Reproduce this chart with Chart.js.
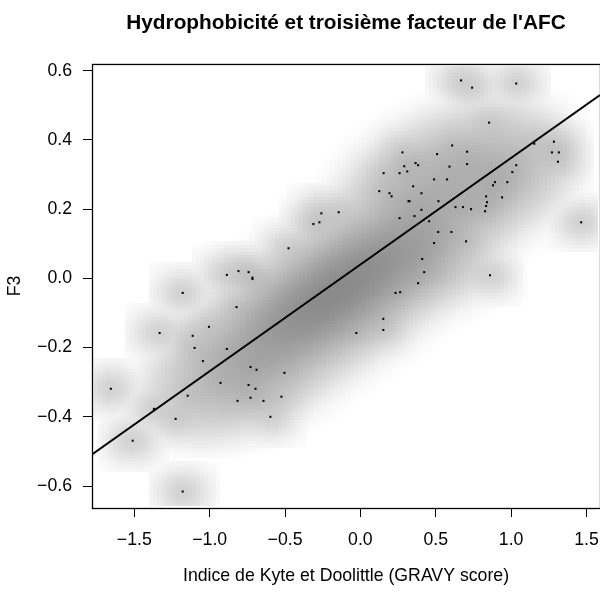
<!DOCTYPE html>
<html>
<head>
<meta charset="utf-8">
<script src="https://cdn.jsdelivr.net/npm/chart.js@4.4.1/dist/chart.umd.min.js"></script>
<style>
  html, body { margin: 0; padding: 0; background: #fff; }
  #wrap { width: 600px; height: 595px; }
</style>
</head>
<body>
<div id="wrap"><canvas id="chart"></canvas></div>
<script>
// plotted (low density) points
const gravy = [0.668, 0.741, 1.034, 0.854, 0.609, 0.279, 0.509, 0.708, 0.291, 0.366,
  0.383, 0.591, 0.708, 0.154, 0.260, 0.311, 0.489, 0.575, 0.350, 0.125,
  0.193, 0.207, 0.405, 0.319, 0.326, 0.518, 0.405, 0.631, 0.681, 0.734,
  -0.259, -0.144, 1.284, 1.154, 1.271, 1.317, 1.311, 1.034, 1.008, 0.975,
  0.893, 0.880, 0.834, 0.840, 0.940, 0.834, 0.827, 1.465, 0.604, 0.701,
  0.860, -0.312, -0.272, 0.260, 0.359, 0.456, 0.516, 0.489, -0.477, 0.410,
  0.423, 0.383, 0.233, 0.264, 0.152, 0.152, -0.027, -0.886, -0.809, -0.742,
  -0.716, -0.716, -1.179, -0.822, -1.005, -1.332, -1.113, -1.100, -0.886, -1.045,
  -0.729, -0.689, -1.656, -0.928, -0.742, -0.696, -1.146, -0.815, -0.729, -0.643,
  -0.597, -1.370, -1.226, -1.511, -1.179, -0.504, -0.524];
const f3 = [0.572, 0.551, 0.563, 0.450, 0.384, 0.364, 0.359, 0.366, 0.324, 0.333,
  0.327, 0.323, 0.330, 0.304, 0.304, 0.309, 0.286, 0.286, 0.266, 0.252,
  0.246, 0.237, 0.246, 0.223, 0.223, 0.223, 0.198, 0.206, 0.206, 0.200,
  0.188, 0.191, 0.395, 0.389, 0.364, 0.364, 0.337, 0.327, 0.307, 0.278,
  0.278, 0.269, 0.237, 0.220, 0.234, 0.209, 0.194, 0.162, 0.134, 0.107,
  0.009, 0.157, 0.162, 0.174, 0.180, 0.165, 0.134, 0.102, 0.087, 0.056,
  0.018, -0.014, -0.042, -0.040, -0.117, -0.149, -0.158, 0.010, 0.021, 0.018,
  0.002, -0.002, -0.042, -0.083, -0.140, -0.158, -0.166, -0.201, -0.204, -0.239,
  -0.256, -0.264, -0.319, -0.302, -0.308, -0.319, -0.339, -0.354, -0.345, -0.354,
  -0.400, -0.377, -0.406, -0.469, -0.616, -0.273, -0.342];

// dense core (points R did not plot), estimated from the grey shading:
// centre, spread along / across the fit line, peak density
const coreX = [-0.25, 0.15, 0.60, 0.90, -0.75, 0.45];
const coreY = [-0.07, 0.06, 0.27, 0.30, -0.25, 0.05];
const coreAlong = [0.38, 0.35, 0.35, 0.20, 0.30, 0.15];
const coreAcross = [0.17, 0.17, 0.22, 0.16, 0.18, 0.15];
const coreWeight = [44, 22, 8, 5, 10, 4];

// regression line end points
const fitX = [-1.781, 1.590];
const fitY = [-0.509, 0.530];

const xTicks = [-1.5, -1.0, -0.5, 0.0, 0.5, 1.0, 1.5];
const yTicks = [-0.6, -0.4, -0.2, 0.0, 0.2, 0.4, 0.6];

const points = gravy.map((x, i) => ({ x: x, y: f3[i] }));
const fitLine = fitX.map((x, i) => ({ x: x, y: fitY[i] }));

// plot range like R (data range + 4%)
function padRange(v) {
  const lo = Math.min(...v), hi = Math.max(...v), d = (hi - lo) * 0.04;
  return [lo - d, hi + d];
}
const xRange = padRange(gravy);
const yRange = padRange(f3);

const FONT = "'Liberation Sans', Arial, Helvetica, sans-serif";
const fmt = v => v.toFixed(1).replace('-', '\u2212');

// smoothScatter-like shading: binned kernel density, fourth root, grey ramp
const densityPlugin = {
  id: 'density',
  beforeDatasetsDraw(chart) {
    const xs = chart.scales.x, ys = chart.scales.y;
    const M = 128, hx = 0.067, hy = 0.0245, tau = 3.4;
    const ax = Math.min(...gravy) - 1.5 * hx, bx = Math.max(...gravy) + 1.5 * hx;
    const ay = Math.min(...f3) - 1.5 * hy, by = Math.max(...f3) + 1.5 * hy;
    const dx = (bx - ax) / (M - 1), dy = (by - ay) / (M - 1);

    const Lx = Math.floor(tau * hx / dx), Ly = Math.floor(tau * hy / dy);
    const kx = [], ky = [];
    for (let k = -Lx; k <= Lx; k++) kx.push(Math.exp(-0.5 * Math.pow(k * dx / hx, 2)));
    for (let k = -Ly; k <= Ly; k++) ky.push(Math.exp(-0.5 * Math.pow(k * dy / hy, 2)));
    const ksum = kx.reduce((s, a) => s + a, 0) * ky.reduce((s, a) => s + a, 0);

    // linear binning of the plotted points
    const counts = new Float64Array(M * M);
    points.forEach(p => {
      const lx = (p.x - ax) / dx, ly = (p.y - ay) / dy;
      const i = Math.floor(lx), j = Math.floor(ly);
      const rx = lx - i, ry = ly - j;
      const add = (ii, jj, w) => {
        if (ii >= 0 && ii < M && jj >= 0 && jj < M) counts[jj * M + ii] += w;
      };
      add(i, j, (1 - rx) * (1 - ry));
      add(i + 1, j, rx * (1 - ry));
      add(i, j + 1, (1 - rx) * ry);
      add(i + 1, j + 1, rx * ry);
    });

    // mass of the unplotted core, laid along the fit line
    const slope = (fitY[1] - fitY[0]) / (fitX[1] - fitX[0]);
    for (let j = 0; j < M; j++) {
      const gy = ay + j * dy;
      for (let i = 0; i < M; i++) {
        const gx = ax + i * dx;
        let m = 0;
        coreX.forEach((cx, k) => {
          const X = gx - cx, Y = (gy - coreY[k]) / slope;
          const u = (X + Y) / Math.SQRT2, v = (Y - X) / Math.SQRT2;
          m += coreWeight[k] * Math.exp(-0.5 * (Math.pow(u / coreAlong[k], 2) + Math.pow(v / coreAcross[k], 2)));
        });
        if (m > 0.5) counts[j * M + i] += m / ksum;
      }
    }

    const dens = new Float64Array(M * M);
    for (let j = 0; j < M; j++) {
      for (let i = 0; i < M; i++) {
        const c = counts[j * M + i];
        if (!c) continue;
        for (let b = -Ly; b <= Ly; b++) {
          const jj = j + b;
          if (jj < 0 || jj >= M) continue;
          const wy = ky[b + Ly] * c;
          for (let a = -Lx; a <= Lx; a++) {
            const ii = i + a;
            if (ii < 0 || ii >= M) continue;
            dens[jj * M + ii] += wy * kx[a + Lx];
          }
        }
      }
    }

    let zmax = 0;
    const z = dens.map(d => Math.pow(d, 0.25));
    z.forEach(v => { if (v > zmax) zmax = v; });

    const dark = 138;
    const ctx = chart.ctx, area = chart.chartArea;
    ctx.save();
    ctx.beginPath();
    ctx.rect(area.left, area.top, area.right - area.left, area.bottom - area.top);
    ctx.clip();
    for (let j = 0; j < M; j++) {
      const y0 = Math.round(ys.getPixelForValue(ay + (j + 0.5) * dy));
      const y1 = Math.round(ys.getPixelForValue(ay + (j - 0.5) * dy));
      for (let i = 0; i < M; i++) {
        const v = z[j * M + i];
        const idx = Math.min(255, Math.floor(v / zmax * 256));
        if (idx === 0) continue;
        const g = Math.round(255 - (255 - dark) * idx / 255);
        const x0 = Math.round(xs.getPixelForValue(ax + (i - 0.5) * dx));
        const x1 = Math.round(xs.getPixelForValue(ax + (i + 0.5) * dx));
        ctx.fillStyle = 'rgb(' + g + ',' + g + ',' + g + ')';
        ctx.fillRect(x0, y0, x1 - x0, y1 - y0);
      }
    }
    ctx.restore();
  },
  afterDraw(chart) {
    const a = chart.chartArea, ctx = chart.ctx;
    ctx.save();
    ctx.strokeStyle = '#000';
    ctx.lineWidth = 1.3;
    ctx.strokeRect(a.left + 0.5, a.top + 0.5, a.right - a.left, a.bottom - a.top);
    ctx.restore();
  }
};

new Chart(document.getElementById('chart'), {
  type: 'scatter',
  data: {
    datasets: [
      {
        type: 'line',
        data: fitLine,
        borderColor: '#000',
        borderWidth: 2,
        pointRadius: 0,
        fill: false
      },
      {
        data: points,
        pointStyle: 'rect',
        pointRadius: 1.45,
        hoverRadius: 1.45,
        backgroundColor: '#000',
        borderWidth: 0
      }
    ]
  },
  options: {
    responsive: true,
    maintainAspectRatio: false,
    animation: false,
    layout: { padding: 0, autoPadding: false },
    plugins: {
      legend: { display: false },
      tooltip: { enabled: false },
      title: {
        display: true,
        fullSize: false,
        text: "Hydrophobicité et troisième facteur de l'AFC",
        color: '#000',
        font: { family: FONT, size: 20.8, weight: 'bold', lineHeight: 1.2 },
        padding: { top: 10.5, bottom: 28.5 }
      }
    },
    scales: {
      x: {
        type: 'linear',
        min: xRange[0],
        max: xRange[1],
        afterBuildTicks: s => { s.ticks = xTicks.map(v => ({ value: v })); },
        afterFit: s => { s.height = 87; s.paddingLeft = 0; s.paddingRight = 0; },
        grid: { drawOnChartArea: false, drawTicks: true, tickLength: 9, color: '#000' },
        border: { display: false },
        ticks: { color: '#000', font: { family: FONT, size: 17.7 }, padding: 12, maxRotation: 0, callback: v => fmt(v) },
        title: {
          display: true,
          text: 'Indice de Kyte et Doolittle (GRAVY score)',
          color: '#000',
          font: { family: FONT, size: 17.7, lineHeight: 1.2 },
          padding: { top: 0, bottom: 8.4 }
        }
      },
      y: {
        type: 'linear',
        min: yRange[0],
        max: yRange[1],
        afterBuildTicks: s => { s.ticks = yTicks.map(v => ({ value: v })); },
        afterFit: s => { s.width = 92; s.paddingTop = 0; s.paddingBottom = 0; },
        grid: { drawOnChartArea: false, drawTicks: true, tickLength: 9, color: '#000' },
        border: { display: false },
        ticks: { color: '#000', font: { family: FONT, size: 17.7 }, padding: 11, callback: v => fmt(v) },
        title: {
          display: true,
          text: 'F3',
          color: '#000',
          font: { family: FONT, size: 17.7, lineHeight: 1.2 },
          padding: { top: 4.4, bottom: 0 }
        }
      }
    }
  },
  plugins: [densityPlugin]
});
</script>
</body>
</html>
